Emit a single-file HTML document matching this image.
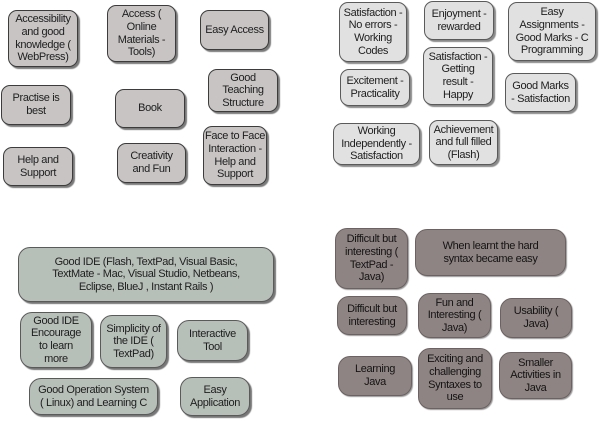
<!DOCTYPE html>
<html><head><meta charset="utf-8">
<style>
html,body{margin:0;padding:0;background:#fff;}
body{width:600px;height:421px;position:relative;overflow:hidden;font-family:"Liberation Sans",Arial,sans-serif;}
.b{position:absolute;box-sizing:border-box;display:flex;align-items:center;justify-content:center;text-align:center;font-size:11px;line-height:12.6px;letter-spacing:-0.35px;white-space:nowrap;color:#1e1e1e;border:1px solid #3c3c3c;border-radius:9px;box-shadow:2px 2px 1px #7a7a7a;padding:0;}
.q1{background:#c8c4c4;}
.q2{background:#e1e1e1;border-color:#5a5a5a;box-shadow:2px 2px 1px #8a8a8a;}
.q3{background:#b7bfb9;border-color:#5a5a5a;border-radius:12px;box-shadow:2px 2px 1px #777;}
.q4{background:#8e8483;border-color:#6c6262;border-radius:12px;box-shadow:1px 1px 1px #999;color:#141414;}
</style></head><body>
<!-- Q1 -->
<div class="b q1" style="left:8px;top:10px;width:70px;height:57px;">Accessibility<br>and good<br>knowledge (<br>WebPress)</div>
<div class="b q1" style="left:107px;top:5px;width:69px;height:57px;">Access (<br>Online<br>Materials -<br>Tools)</div>
<div class="b q1" style="left:200px;top:10px;width:69px;height:40px;">Easy Access</div>
<div class="b q1" style="left:1px;top:85px;width:70px;height:40px;">Practise is<br>best</div>
<div class="b q1" style="left:115px;top:89px;width:70px;height:39px;">Book</div>
<div class="b q1" style="left:208px;top:69px;width:70px;height:43px;">Good<br>Teaching<br>Structure</div>
<div class="b q1" style="left:3px;top:147px;width:70px;height:39px;">Help and<br>Support</div>
<div class="b q1" style="left:117px;top:143px;width:69px;height:40px;">Creativity<br>and Fun</div>
<div class="b q1" style="left:203px;top:126px;width:64px;height:59px;">Face to Face<br>Interaction -<br>Help and<br>Support</div>
<!-- Q2 -->
<div class="b q2" style="left:339px;top:2px;width:68px;height:60px;">Satisfaction -<br>No errors -<br>Working<br>Codes</div>
<div class="b q2" style="left:424px;top:1px;width:70px;height:39px;">Enjoyment -<br>rewarded</div>
<div class="b q2" style="left:508px;top:2px;width:88px;height:59px;">Easy<br>Assignments -<br>Good Marks - C<br>Programming</div>
<div class="b q2" style="left:423px;top:47px;width:70px;height:58px;">Satisfaction -<br>Getting<br>result -<br>Happy</div>
<div class="b q2" style="left:340px;top:69px;width:70px;height:37px;">Excitement -<br>Practicality</div>
<div class="b q2" style="left:505px;top:73px;width:71px;height:39px;">Good Marks<br>- Satisfaction</div>
<div class="b q2" style="left:333px;top:123px;width:87px;height:42px;">Working<br>Independently -<br>Satisfaction</div>
<div class="b q2" style="left:429px;top:120px;width:69px;height:45px;">Achievement<br>and full filled<br>(Flash)</div>
<!-- Q3 -->
<div class="b q3" style="left:18px;top:247px;width:256px;height:55px;">Good IDE (Flash, TextPad, Visual Basic,<br>TextMate - Mac, Visual Studio, Netbeans,<br>Eclipse, BlueJ , Instant Rails )</div>
<div class="b q3" style="left:20px;top:312px;width:72px;height:56px;">Good IDE<br>Encourage<br>to learn<br>more</div>
<div class="b q3" style="left:100px;top:315px;width:67px;height:53px;">Simplicity of<br>the IDE (<br>TextPad)</div>
<div class="b q3" style="left:177px;top:320px;width:71px;height:41px;">Interactive<br>Tool</div>
<div class="b q3" style="left:29px;top:378px;width:129px;height:37px;">Good Operation System<br>( Linux) and Learning C</div>
<div class="b q3" style="left:180px;top:377px;width:70px;height:39px;">Easy<br>Application</div>
<!-- Q4 -->
<div class="b q4" style="left:335px;top:228px;width:73px;height:61px;">Difficult but<br>interesting (<br>TextPad -<br>Java)</div>
<div class="b q4" style="left:415px;top:229px;width:151px;height:47px;">When learnt the hard<br>syntax became easy</div>
<div class="b q4" style="left:337px;top:296px;width:70px;height:39px;">Difficult but<br>interesting</div>
<div class="b q4" style="left:418px;top:293px;width:73px;height:45px;">Fun and<br>Interesting (<br>Java)</div>
<div class="b q4" style="left:500px;top:298px;width:72px;height:40px;">Usability (<br>Java)</div>
<div class="b q4" style="left:338px;top:356px;width:74px;height:40px;">Learning<br>Java</div>
<div class="b q4" style="left:418px;top:348px;width:74px;height:61px;">Exciting and<br>challenging<br>Syntaxes to<br>use</div>
<div class="b q4" style="left:499px;top:352px;width:73px;height:47px;">Smaller<br>Activities in<br>Java</div>
</body></html>
